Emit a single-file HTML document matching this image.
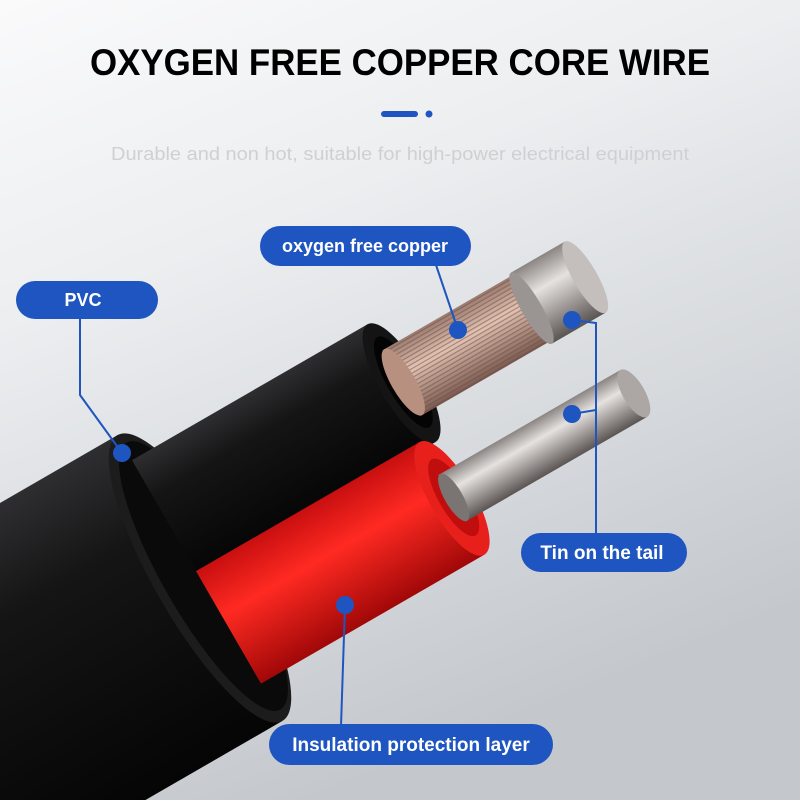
<!DOCTYPE html>
<html><head><meta charset="utf-8"><style>
html,body{margin:0;padding:0;width:800px;height:800px;overflow:hidden}
svg{display:block;overflow:hidden}
</style></head><body>
<svg width="800" height="800" viewBox="0 0 800 800" xmlns="http://www.w3.org/2000/svg">
<defs>
<linearGradient id="bg" x1="0" y1="0" x2="0.4" y2="1">
<stop offset="0" stop-color="#fafafb"/><stop offset="0.35" stop-color="#eceef0"/><stop offset="1" stop-color="#c4c8cd"/>
</linearGradient>
<linearGradient id="blk" x1="0" y1="0" x2="0" y2="1">
<stop offset="0" stop-color="#2e2e30"/><stop offset="0.3" stop-color="#151516"/><stop offset="1" stop-color="#050505"/>
</linearGradient>
<linearGradient id="red" x1="0" y1="0" x2="0" y2="1">
<stop offset="0" stop-color="#c80f10"/><stop offset="0.4" stop-color="#ff2a22"/><stop offset="1" stop-color="#a00808"/>
</linearGradient>
<linearGradient id="sil" x1="0" y1="0" x2="0" y2="1">
<stop offset="0" stop-color="#8a8583"/><stop offset="0.35" stop-color="#e6e2e0"/><stop offset="1" stop-color="#5a5452"/>
</linearGradient>
<linearGradient id="cu" x1="0" y1="0" x2="0" y2="1">
<stop offset="0" stop-color="#9a7a6e"/><stop offset="0.4" stop-color="#e4c4b4"/><stop offset="1" stop-color="#7a5a50"/>
</linearGradient>
<pattern id="strand" width="6" height="4" patternUnits="userSpaceOnUse">
<rect y="0" width="6" height="1.2" fill="#6a4a40" opacity="0.5"/>
</pattern>
</defs>
<rect width="800" height="800" fill="url(#bg)"/>
<text x="400" y="75" text-anchor="middle" font-family="Liberation Sans, sans-serif" font-weight="bold" font-size="37" textLength="620" lengthAdjust="spacingAndGlyphs" fill="#000">OXYGEN FREE COPPER CORE WIRE</text>
<rect x="381" y="111" width="37" height="6" rx="3" fill="#1e55c0"/>
<circle cx="429" cy="114" r="3.5" fill="#1e55c0"/>
<text x="400" y="160" text-anchor="middle" font-family="Liberation Sans, sans-serif" font-size="18" textLength="578" lengthAdjust="spacingAndGlyphs" fill="#cfd0d2">Durable and non hot, suitable for high-power electrical equipment</text>

<g transform="translate(200,578) rotate(-30)">
  <rect x="-600" y="-165" width="600" height="330" fill="url(#blk)"/>
  <ellipse cx="0" cy="0" rx="45" ry="165" fill="#1c1c1d"/>
  <ellipse cx="4" cy="0" rx="40" ry="154" fill="#0a0a0a"/>
  <!-- black wire -->
  <rect x="0" y="-136" width="272" height="136" fill="url(#blk)"/>
  <ellipse cx="272" cy="-68" rx="22" ry="68" fill="#141415"/>
  <ellipse cx="274" cy="-68" rx="16" ry="52" fill="#040404"/>
  <!-- copper -->
  <rect x="272" y="-106" width="150" height="76" fill="url(#cu)"/>
  <rect x="272" y="-106" width="150" height="76" fill="url(#strand)"/>
  <ellipse cx="274" cy="-68" rx="12" ry="38" fill="#b89080"/>
  <!-- tin cap -->
  <rect x="422" y="-109" width="62" height="82" fill="url(#sil)"/>
  <ellipse cx="422" cy="-68" rx="10" ry="41" fill="#9a9492"/>
  <ellipse cx="484" cy="-68" rx="12" ry="41" fill="#c4bfbd"/>
  <!-- red wire -->
  <rect x="0" y="-8" width="258" height="130" fill="url(#red)"/>
  <ellipse cx="258" cy="57" rx="22" ry="65" fill="#e8201c"/>
  <ellipse cx="260" cy="57" rx="15" ry="44" fill="#c00e0e"/>
  <!-- silver rod -->
  <rect x="258" y="30" width="210" height="54" fill="url(#sil)"/>
  <ellipse cx="260" cy="57" rx="9" ry="27" fill="#7a7472"/>
  <ellipse cx="468" cy="57" rx="11" ry="27" fill="#aca6a4"/>
</g>

<g stroke="#1e55c0" stroke-width="2" fill="none">
  <polyline points="435,262 458,330"/>
  <polyline points="80,318 80,395 122,453"/>
  <polyline points="572,320 596,323 596,540"/>
  <polyline points="572,414 596,410"/>
  <polyline points="345,605 341,726"/>
</g>
<g fill="#1e55c0">
  <circle cx="458" cy="330" r="9"/>
  <circle cx="122" cy="453" r="9"/>
  <circle cx="572" cy="320" r="9"/>
  <circle cx="572" cy="414" r="9"/>
  <circle cx="345" cy="605" r="9"/>
  <rect x="260" y="226" width="211" height="40" rx="20"/>
  <rect x="16" y="281" width="142" height="38" rx="19"/>
  <rect x="521" y="533" width="166" height="39" rx="19.5"/>
  <rect x="269" y="724" width="284" height="41" rx="20.5"/>
</g>
<g font-family="Liberation Sans, sans-serif" font-weight="bold" fill="#fff" text-anchor="middle">
  <text x="365" y="252" font-size="18">oxygen free copper</text>
  <text x="83" y="306" font-size="18">PVC</text>
  <text x="602" y="559" font-size="19">Tin on the tail</text>
  <text x="411" y="751" font-size="19">Insulation protection layer</text>
</g>
</svg>
</body></html>
